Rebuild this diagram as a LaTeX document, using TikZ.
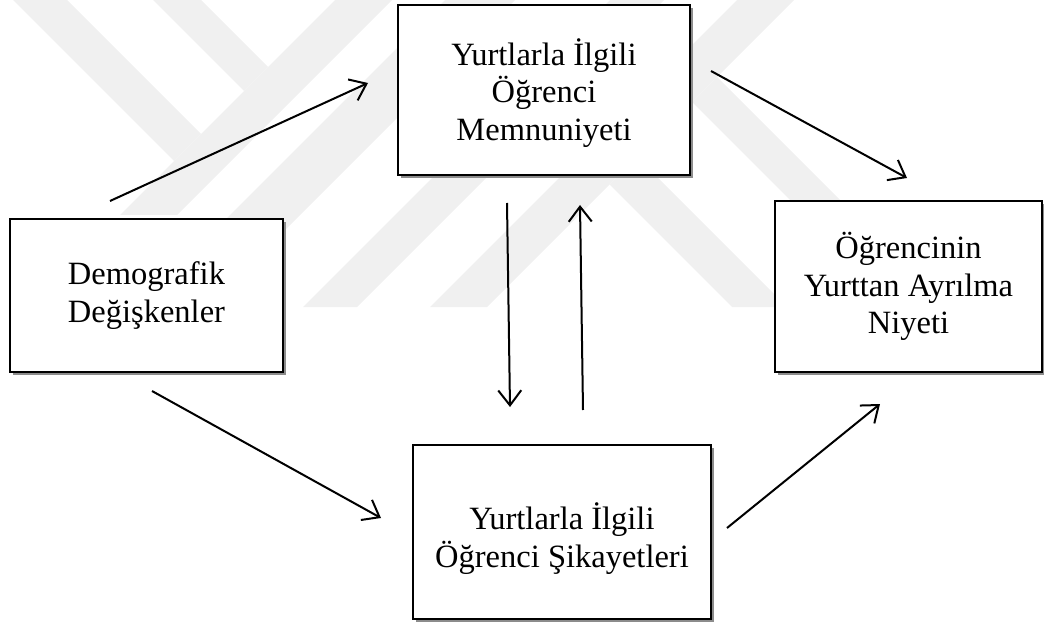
\documentclass[tikz,border=0pt]{standalone}
\usepackage{fontspec}
\setmainfont{Liberation Serif}
\usetikzlibrary{arrows.meta,shadows}
\begin{document}
\begin{tikzpicture}[x=1pt,y=-1pt,
  wm/.style={fill=black!6,draw=none},
  box/.style={draw=black,line width=1.8pt,fill=white,align=center,inner sep=0pt,
     font=\fontsize{32.5}{37.5}\selectfont,
     drop shadow={shadow xshift=3pt,shadow yshift=-3pt,fill=black!45,opacity=1}},
  arr/.style={line width=2pt,-{Straight Barb[length=15pt,width=23pt,line width=2pt]}}
]
\useasboundingbox (0,0) rectangle (1044,631);
% watermark
\fill[wm] (13,0) -- (67,0) -- (201,134) -- (174,161) -- cycle;
\fill[wm] (153,0) -- (201,0) -- (268,67) -- (244,91) -- cycle;
\fill[wm] (120,215) -- (177,215) -- (392,0) -- (335,0) -- cycle;
\fill[wm] (215,230) -- (285,230) -- (515,0) -- (445,0) -- cycle;
\fill[wm] (303,307) -- (357,307) -- (664,0) -- (610,0) -- cycle;
\fill[wm] (430,307) -- (487,307) -- (794,0) -- (737,0) -- cycle;
\fill[wm] (609.5,184.5) -- (637,157) -- (787,307) -- (732,307) -- cycle;
\fill[wm] (692,102) -- (717,77) -- (947,307) -- (897,307) -- cycle;
% boxes
\node[box, minimum width=292pt, minimum height=170pt] (sat) at (544,90) {\rule{0pt}{33pt}Yurtlarla İlgili\\Öğrenci\\Memnuniyeti};
\node[box, minimum width=273pt, minimum height=153pt] (dem) at (146.5,295.5) {Demografik\\Değişkenler};
\node[box, minimum width=267pt, minimum height=171pt] (int) at (908.5,286.5) {Öğrencinin\\Yurttan Ayrılma\\Niyeti};
\node[box, minimum width=298pt, minimum height=174pt] (com) at (562,532) {\rule{0pt}{40pt}Yurtlarla İlgili\\Öğrenci Şikayetleri};
% connector end points
\coordinate (a1s) at (110,201); \coordinate (a1e) at (368,83);
\coordinate (a2s) at (152,391); \coordinate (a2e) at (381,518);
\coordinate (a3s) at (711,71);  \coordinate (a3e) at (907,178);
\coordinate (a4s) at (727,528); \coordinate (a4e) at (880,404);
\coordinate (a5s) at (507,203); \coordinate (a5e) at (510,407);
\coordinate (a6s) at (583,410); \coordinate (a6e) at (580,205);
\draw[arr] (a1s) -- (a1e);
\draw[arr] (a2s) -- (a2e);
\draw[arr] (a3s) -- (a3e);
\draw[arr] (a4s) -- (a4e);
\draw[arr] (a5s) -- (a5e);
\draw[arr] (a6s) -- (a6e);
\end{tikzpicture}
\end{document}
